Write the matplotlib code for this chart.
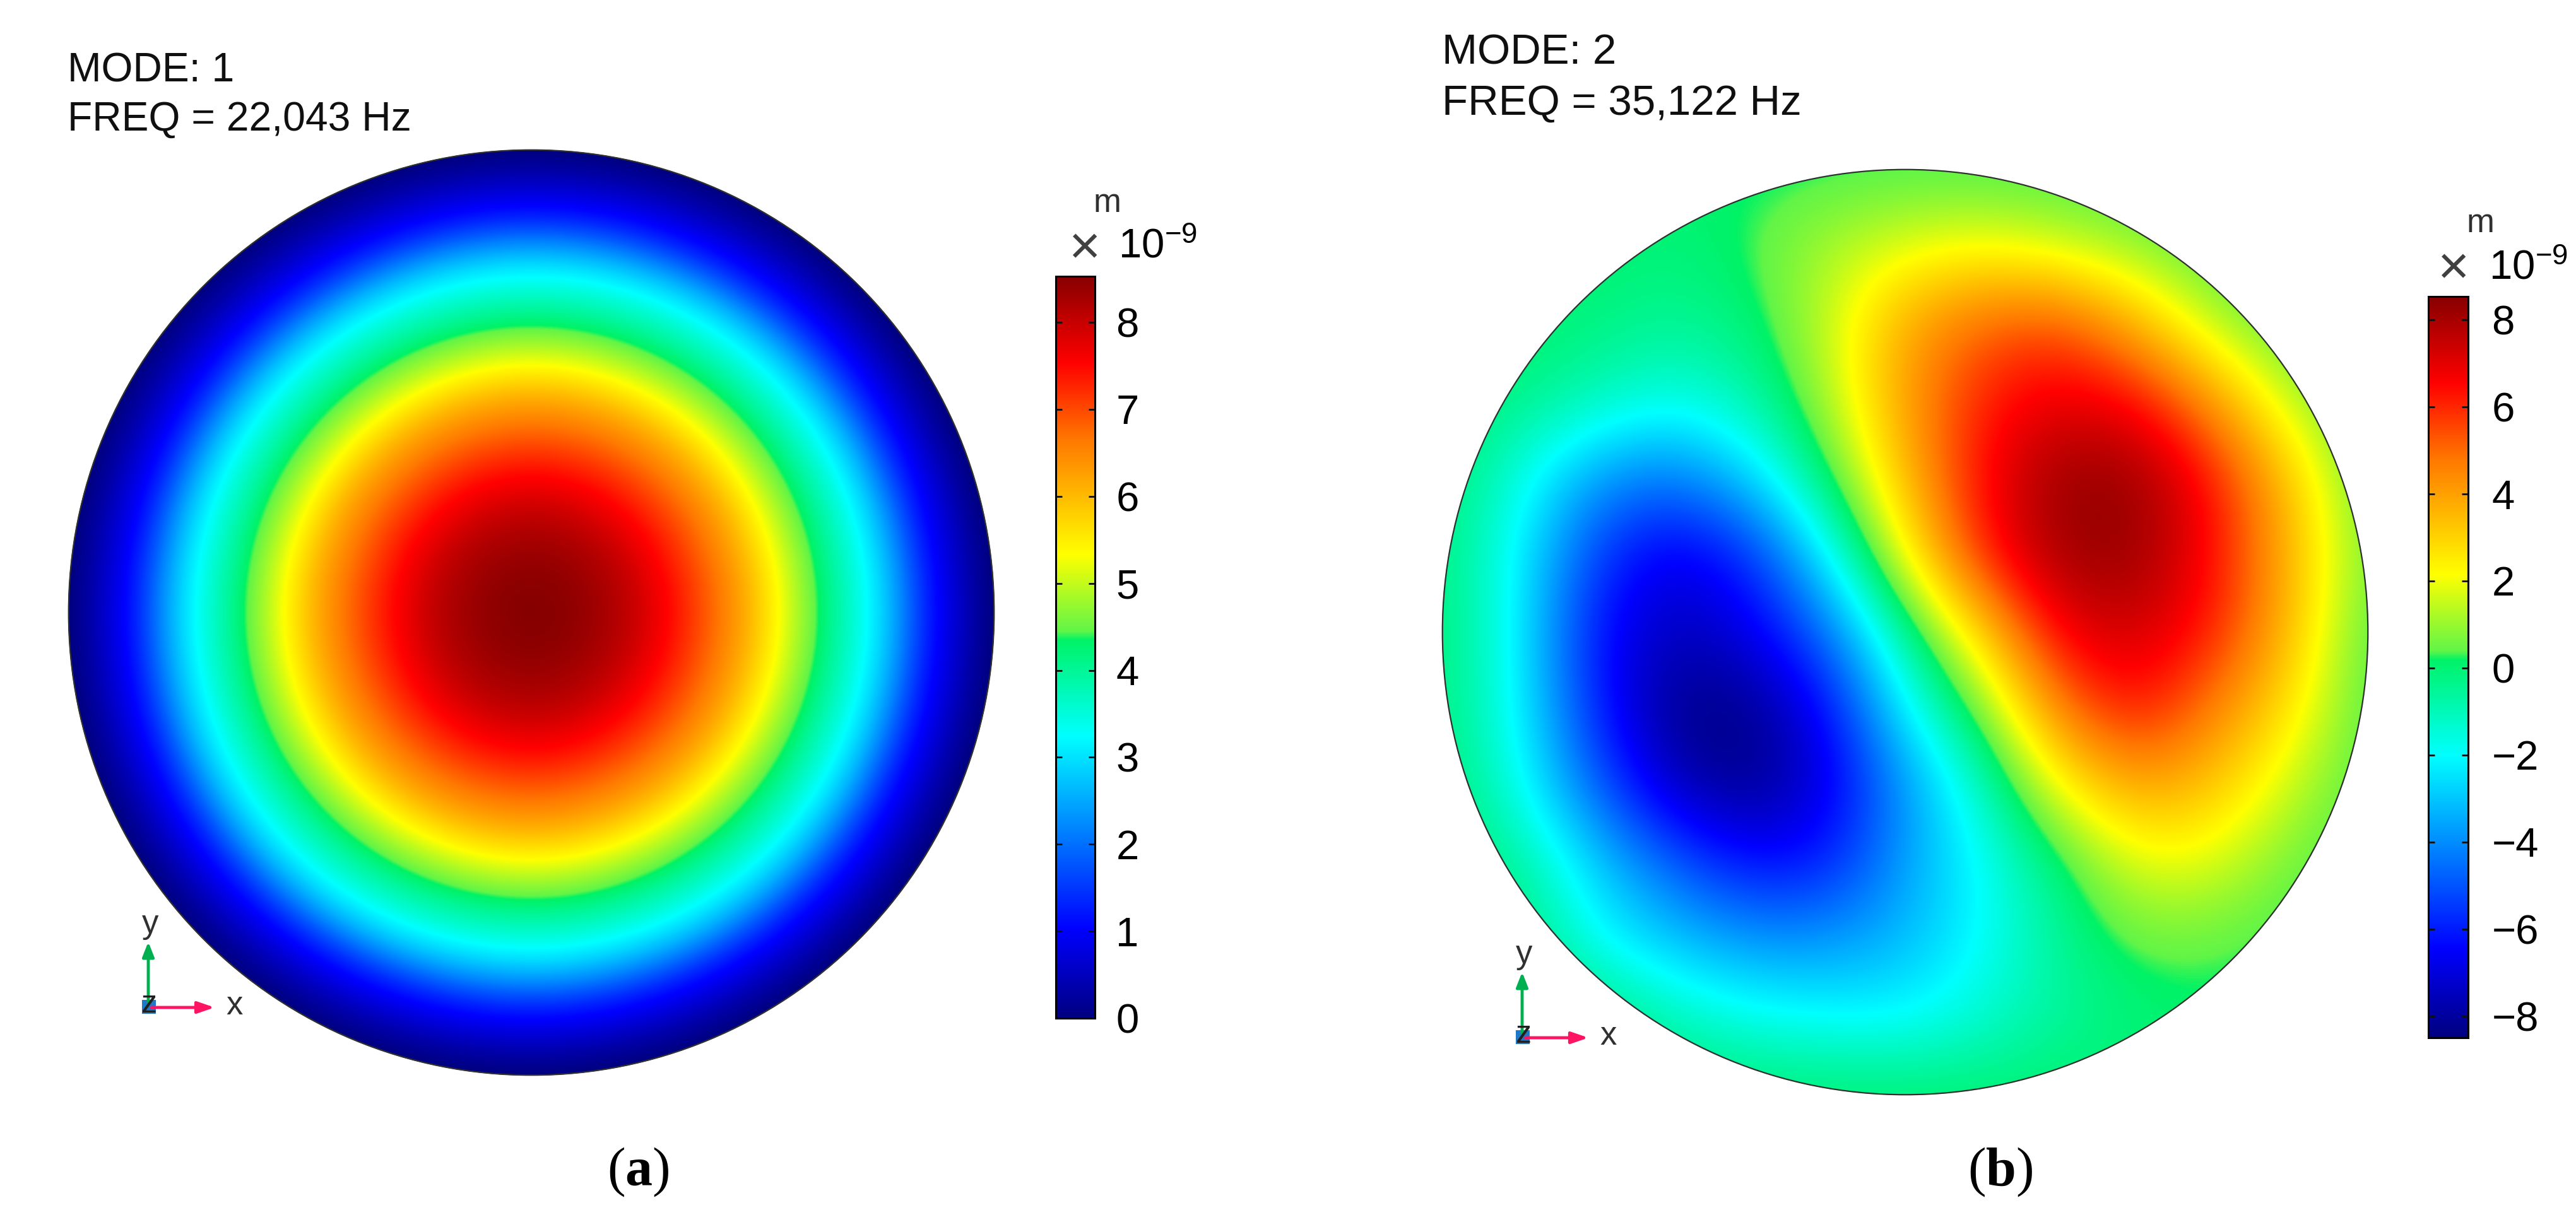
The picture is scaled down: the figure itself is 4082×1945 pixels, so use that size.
# -*- coding: utf-8 -*-
"""
Displacement mode shapes of a circular plate, first two modes.
"""

import numpy as np
import matplotlib
matplotlib.use('Agg')
import matplotlib.pyplot as plt
from matplotlib.colors import LinearSegmentedColormap
from matplotlib.patches import Circle
from matplotlib.cm import ScalarMappable
from matplotlib.colors import Normalize

plt.rcParams['font.family'] = ['Liberation Sans', 'DejaVu Sans']
plt.rcParams['mathtext.fontset'] = 'custom'
plt.rcParams['mathtext.rm'] = 'Liberation Sans'
plt.rcParams['mathtext.bf'] = 'Liberation Serif:bold'

# mode 1: displacement (1e-9 m) read along a radius, r/R every 0.025
mode1_r = [0, .025, .05, .075, .1, .125, .15, .175, .2, .225, .25, .275, .3, .325,
           .35, .375, .4, .425, .45, .475, .5, .525, .55, .575, .6, .625, .65,
           .675, .7, .725, .75, .775, .8, .825, .85, .875, .9, .925, .95, .975, 1]
mode1_val = [8.53, 8.52, 8.50, 8.47, 8.42, 8.36, 8.28, 8.19, 8.08, 7.95, 7.80, 7.64, 7.48, 7.29,
             7.10, 6.90, 6.70, 6.48, 6.25, 6.00, 5.72, 5.44, 5.15, 4.87, 4.60, 4.31, 4.02,
             3.77, 3.52, 3.25, 2.95, 2.60, 2.20, 1.78, 1.40, 1.08, .82, .58, .36, .17, 0]

# mode 2: displacement (1e-9 m) read on a 13x13 grid over the disk, top row first
mode2_val = [
    [.1, .1, .1, .1, .1, .1, .15, .1, .1, .1, .1, .1, .1],
    [.1, .1, .1, -.1, .3, 1.2, 1.8, 2.1, 1.5, .8, .1, .1, .1],
    [.1, .1, -.2, -.5, -.1, 1.5, 3.9, 5.1, 5.5, 3.6, 1.2, .1, .1],
    [.1, -.3, -1.0, -1.7, -.9, 1.2, 4.1, 6.2, 7.0, 6.6, 4.2, 1.3, .1],
    [.1, -1.6, -3.8, -4.4, -2.8, .1, 3.5, 6.6, 8.3, 8.3, 6.3, 3.2, .1],
    [-.1, -2.1, -5.5, -7.0, -5.8, -2.1, 2.2, 6.2, 8.2, 8.3, 6.5, 3.6, .5],
    [0, -2.1, -6.3, -7.6, -6.9, -4.5, -.5, 3.0, 6.9, 7.4, 6.2, 3.4, .1],
    [-.1, -2.0, -6.0, -8.4, -8.4, -6.4, -2.1, .6, 4.8, 6.5, 4.6, 2.6, .1],
    [.1, -1.7, -4.8, -7.6, -8.4, -7.0, -3.8, -1.2, 2.2, 4.0, 3.3, 1.5, .1],
    [.1, -.5, -2.8, -4.8, -6.3, -6.0, -3.6, -2.0, -.1, 1.9, 1.8, .5, .1],
    [.1, .1, -2.0, -3.0, -3.8, -3.8, -3.2, -2.0, -.5, .5, .4, .1, .1],
    [.1, .1, .1, -1.0, -1.7, -2.0, -2.1, -1.4, -.6, -.1, .1, .1, .1],
    [.1, .1, .1, .1, .1, .1, .1, .1, .1, .1, .1, .1, .1],
]

mode1_ticks = [0, 1, 2, 3, 4, 5, 6, 7, 8]
mode2_ticks = [-8, -6, -4, -2, 0, 2, 4, 6, 8]
mode1_range = (0, 8.53)
mode2_range = (-8.5, 8.54)

# colour scale of the plots, position on the bar and colour
cmap = LinearSegmentedColormap.from_list('rainbow_fem', [
    (0.0, (0, 0, .5)),
    (.12, (0, 0, 1)),
    (.381, (0, 1, 1)),
    (.51, (0, .95, .4)),
    (.522, (.38, .96, .28)),
    (.625, (1, 1, 0)),
    (.78, (1, .47, 0)),
    (.884, (1, 0, 0)),
    (1.0, (.53, 0, 0)),
], N=1024)

W, H = 4082, 1945
fig = plt.figure(figsize=(W / 100, H / 100), dpi=100, facecolor='white')


def pix_axes(x0, y0, x1, y1, **kw):
    # axes from picture pixel box (y downwards)
    return fig.add_axes([x0 / W, 1 - y1 / H, (x1 - x0) / W, (y1 - y0) / H], **kw)


def disk_axes(cx, cy, R):
    ax = pix_axes(cx - R, cy - R, cx + R, cy + R)
    ax.set_xlim(-1, 1)
    ax.set_ylim(-1, 1)
    ax.axis('off')
    return ax


def outline(ax, im):
    im.set_clip_path(Circle((0, 0), 1, transform=ax.transData))
    ax.add_patch(Circle((0, 0), .999, fill=False, edgecolor='#303030', linewidth=1.6, clip_on=False))


# everything that is not data goes on a full size overlay in pixels
over = fig.add_axes([0, 0, 1, 1], zorder=5)
over.set_xlim(0, W)
over.set_ylim(H, 0)
over.axis('off')
over.patch.set_alpha(0)

# mode 1 disk, the radial reading swept round the centre
ax1 = disk_axes(842, 971, 734)
xs = np.linspace(-1, 1, 1468)
radius = np.hypot(*np.meshgrid(xs, xs))
im1 = ax1.imshow(np.interp(radius, mode1_r, mode1_val), cmap=cmap,
                 vmin=mode1_range[0], vmax=mode1_range[1], extent=[-1, 1, -1, 1])
outline(ax1, im1)

# mode 2 disk
ax2 = disk_axes(3019, 1002, 734)
step = 1 / 6
im2 = ax2.imshow(np.array(mode2_val), cmap=cmap, vmin=mode2_range[0], vmax=mode2_range[1],
                 extent=[-1 - step / 2, 1 + step / 2, -1 - step / 2, 1 + step / 2],
                 interpolation='bicubic', interpolation_stage='data', origin='upper')
ax2.set_xlim(-1, 1)
ax2.set_ylim(-1, 1)
outline(ax2, im2)


def colorbar(x0, y0, x1, y1, vrange, ticks, pad):
    cax = pix_axes(x0, y0, x1, y1)
    sm = ScalarMappable(norm=Normalize(*vrange), cmap=cmap)
    cb = fig.colorbar(sm, cax=cax, ticks=ticks)
    cb.outline.set_linewidth(2.2)
    cb.outline.set_edgecolor('black')
    cax.tick_params(axis='y', which='major', direction='in', left=True, right=True,
                    length=7.5, width=2, labelsize=47, pad=pad, color='#101010')
    return cb


colorbar(1673, 438, 1735, 1614, mode1_range, mode1_ticks, 24)
colorbar(3848, 470, 3911, 1645, mode2_range, mode2_ticks, 27)

# unit labels above the bars
for mx, my, tx, ty, ex, ey in [(1755, 336, 1718, 396, 1772, 408), (3931, 368, 3887, 428, 3944, 442)]:
    over.text(mx, my, 'm', fontsize=38, color='#303030', ha='center', va='baseline')
    over.text(tx, ty, '\u00d7', fontsize=62, color='#404040', ha='center', va='center')
    over.text(ex, ey, r'$\mathrm{10^{-9}}$', fontsize=47, ha='left', va='baseline')

# headers
over.text(107, 129, 'MODE: 1', fontsize=46.3, ha='left', va='baseline', color='#101010')
over.text(107, 207, 'FREQ = 22,043 Hz', fontsize=46.3, ha='left', va='baseline', color='#101010')
over.text(2285, 101, 'MODE: 2', fontsize=48.4, ha='left', va='baseline', color='#101010')
over.text(2285, 182, 'FREQ = 35,122 Hz', fontsize=48.4, ha='left', va='baseline', color='#101010')

# captions
over.text(1011, 1858, r'($\mathbf{a}$)', fontsize=62, family='Liberation Serif', ha='center', va='center')
over.text(3170, 1858, r'($\mathbf{b}$)', fontsize=62, family='Liberation Serif', ha='center', va='center')

# axis triads
for dx, dy in [(0, 0), (2177, 48)]:
    over.annotate('', xy=(235 + dx, 1493 + dy), xytext=(235 + dx, 1590 + dy),
                  arrowprops=dict(arrowstyle='-|>,head_width=.55,head_length=1.4', color='#00b050', lw=3.5, shrinkA=0, shrinkB=0))
    over.annotate('', xy=(340 + dx, 1597 + dy), xytext=(240 + dx, 1597 + dy),
                  arrowprops=dict(arrowstyle='-|>,head_width=.55,head_length=1.6', color='#ff1464', lw=3.5, shrinkA=0, shrinkB=0))
    over.add_patch(plt.Rectangle((225 + dx, 1585 + dy), 22, 22, color='#1f78c8', lw=0))
    over.text(238 + dx, 1465 + dy, 'y', fontsize=38, color='#303030', ha='center', va='center')
    over.text(372 + dx, 1594 + dy, 'x', fontsize=38, color='#303030', ha='center', va='center')
    over.text(237 + dx, 1592 + dy, 'z', fontsize=36, color='#202020', ha='center', va='center')

fig.savefig('out.png', dpi=100)
